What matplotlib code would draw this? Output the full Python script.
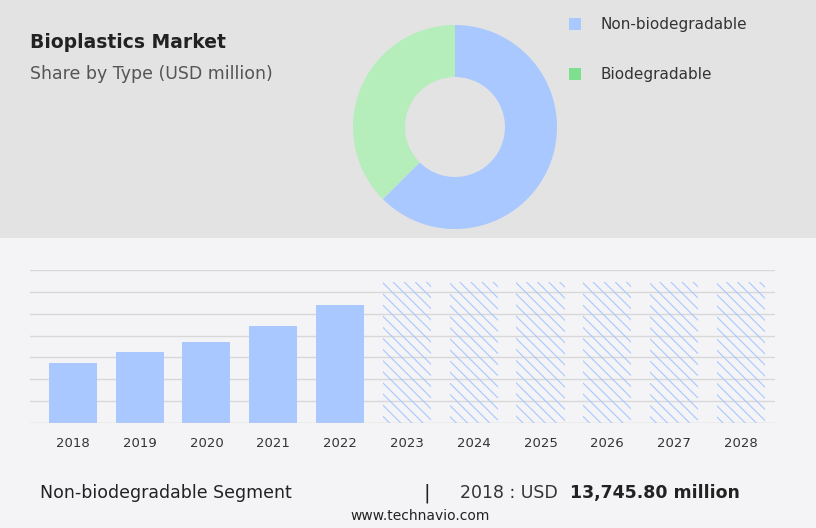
import matplotlib.pyplot as plt
from matplotlib.patches import Rectangle

years = ["2018", "2019", "2020", "2021", "2022", "2023", "2024", "2025", "2026", "2027", "2028"]
values = [60, 71, 82, 98, 119, 142, 142, 142, 142, 142, 142]
n_actual = 5
shares = [62.5, 37.5]
share_labels = ["Non-biodegradable", "Biodegradable"]
share_colors = ["#a8c8ff", "#b5edbb"]
legend_colors = ["#a8c8ff", "#7ee08e"]

plt.rcParams["hatch.linewidth"] = 0.8

fig = plt.figure(figsize=(8.16, 5.28), dpi=100)
fig.patch.set_facecolor("#f4f4f6")
fig.add_artist(Rectangle((0, 1 - 238 / 528), 1, 238 / 528, transform=fig.transFigure,
                         facecolor="#e3e3e3", edgecolor="none", zorder=0))

fig.text(30 / 816, 1 - 43 / 528, "Bioplastics Market", fontsize=13.5, fontweight="bold",
         color="#222222", va="center")
fig.text(30 / 816, 1 - 74 / 528, "Share by Type (USD million)", fontsize=12.5,
         color="#555555", va="center")

# donut
ax_d = fig.add_axes([(455 - 102) / 816, 1 - (127 + 102) / 528, 204 / 816, 204 / 528])
ax_d.pie(shares, colors=share_colors, startangle=90, counterclock=False,
         wedgeprops=dict(width=0.51, edgecolor="none"))
ax_d.set_xlim(-1, 1)
ax_d.set_ylim(-1, 1)
ax_d.set_aspect("equal")

for i, (lab, c) in enumerate(zip(share_labels, legend_colors)):
    y = 1 - (24 + 50 * i) / 528
    fig.add_artist(Rectangle((569 / 816, y - 6 / 528), 12 / 816, 12 / 528,
                             transform=fig.transFigure, facecolor=c, edgecolor="none"))
    fig.text(600 / 816, y, lab, fontsize=11, color="#333333", va="center")

# bars
ax = fig.add_axes([30 / 816, 1 - 423 / 528, 745 / 816, 153 / 528])
ax.set_facecolor("#f4f4f6")
for i, (yr, v) in enumerate(zip(years, values)):
    if i < n_actual:
        ax.bar(i, v, width=0.72, color="#a8c8ff", zorder=3)
    else:
        ax.bar(i, v, width=0.72, color="none", edgecolor="#a8c8ff", hatch="\\\\\\",
               linewidth=0, zorder=3)
ax.set_xlim(-0.64, 10.51)
ax.set_ylim(0, 153)
ax.set_yticks([22 * k for k in range(1, 8)])
ax.set_yticklabels([])
ax.tick_params(axis="y", length=0)
ax.tick_params(axis="x", length=0, labelsize=9.5, colors="#333333", pad=10)
ax.set_xticks(list(range(len(years))))
ax.set_xticklabels(years)
ax.grid(axis="y", color="#d8d8d8", linewidth=1, zorder=0)
for s in ax.spines.values():
    s.set_visible(False)
ax.axhline(0, color="#cccccc", linewidth=1, zorder=4)

fig.text(40 / 816, 1 - 493 / 528, "Non-biodegradable Segment", fontsize=12.5, color="#222222", va="center")
fig.text(423 / 816, 1 - 493 / 528, "|", fontsize=14, color="#222222", va="center")
fig.text(460 / 816, 1 - 493 / 528, "2018 : USD", fontsize=12.5, color="#333333", va="center")
fig.text(570 / 816, 1 - 493 / 528, "13,745.80 million", fontsize=12.5, fontweight="bold",
         color="#222222", va="center")
fig.text(420 / 816, 1 - 516 / 528, "www.technavio.com", fontsize=10, color="#222222",
         va="center", ha="center")

fig.savefig("out.png", dpi=100, facecolor=fig.get_facecolor())
